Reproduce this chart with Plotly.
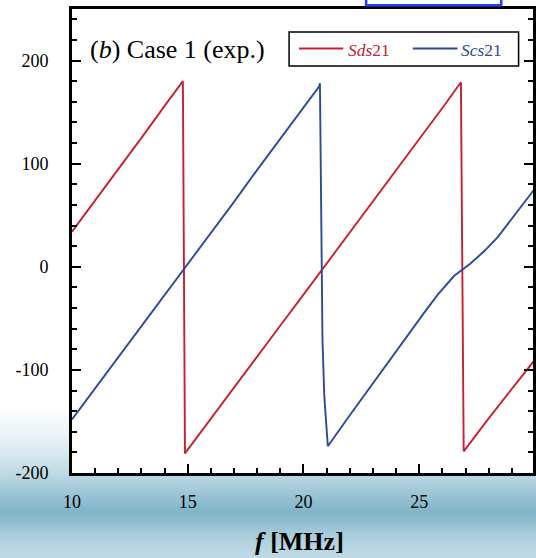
import plotly.graph_objects as go

# ---------------- data ----------------
sds_name = "Sds21"
sds_freq = [10.0, 11.0, 12.0, 13.0, 14.0, 14.79, 14.88, 16.0, 17.0, 18.0, 19.0, 20.0,
            21.0, 22.0, 23.0, 24.0, 25.0, 26.0, 26.80, 26.92, 28.0, 29.0, 30.0]
sds_phase = [34, 64, 95, 125, 156, 180, -181, -147, -117, -87, -57, -27,
             3, 33, 63, 94, 124, 154, 179, -179, -147, -118, -90]

scs_name = "Scs21"
scs_freq = [10.0, 11.0, 12.0, 13.0, 14.0, 15.0, 16.0, 17.0, 18.0, 19.0, 20.0, 20.68, 20.71,
            20.75, 20.82, 20.90, 21.05, 22.0, 23.0, 24.0, 24.66, 25.2, 25.8, 26.5, 27.2,
            27.8, 28.4, 28.8, 29.4, 29.92, 30.0]
scs_phase = [-148, -118, -88, -57, -27, 3, 33, 63, 94, 124, 154, 175, 178,
             64, -71, -126, -174, -144, -113, -82, -61, -45, -27, -9, 3,
             15, 29, 41, 59, 74, 76]

x_tick_vals = [10, 15, 20, 25]
x_tick_text = ["10", "15", "20", "25"]
y_tick_vals = [-200, -100, 0, 100, 200]
y_tick_text = ["-200", "-100", "0", "100", "200"]

# ---------------- layout geometry ----------------
W, H = 536, 558
L, R, T, B = 72, 0, 9, 85
PW, PH = W - L - R, H - T - B
PX_PER_MHZ = 23.3
X_MAX = 10 + PW / PX_PER_MHZ

def fx(px):
    return (px - L) / PW

def fy(py):
    return (H - B - py) / PH

RED = "#c8202f"
BLUE = "#2b4a99"
FONT = "Liberation Serif, Times New Roman, serif"

fig = go.Figure()
fig.add_trace(go.Scatter(x=sds_freq, y=sds_phase, mode="lines", name=sds_name,
                         line=dict(color=RED, width=1.9), showlegend=False))
fig.add_trace(go.Scatter(x=scs_freq, y=scs_phase, mode="lines", name=scs_name,
                         line=dict(color=BLUE, width=1.9), showlegend=False))

shapes = []

# background gradient (slide background behind the chart)
stops = [(405, (255, 255, 255)), (430, (238, 245, 248)), (455, (214, 232, 239)),
         (474, (190, 217, 228)), (490, (163, 201, 217)), (503, (140, 188, 206)),
         (512, (130, 180, 200)), (522, (143, 190, 208)), (535, (170, 205, 219)),
         (548, (185, 214, 226)), (560, (192, 218, 229))]

def col_at(py):
    for (a, ca), (b, cb) in zip(stops[:-1], stops[1:]):
        if a <= py <= b:
            t = (py - a) / (b - a)
            c = [round(ca[i] + (cb[i] - ca[i]) * t) for i in range(3)]
            return "rgb(%d,%d,%d)" % tuple(c)
    return "rgb(255,255,255)"

py = 405
while py < 560:
    y_top, y_bot = py, py + 2
    if y_bot <= H - B + 1:
        xl, xr = fx(-5), fx(L - 1)
    else:
        xl, xr = fx(-5), fx(W + 5)
    shapes.append(dict(type="rect", xref="paper", yref="paper", x0=xl, x1=xr,
                       y0=fy(y_bot + 0.5), y1=fy(y_top), fillcolor=col_at(py + 1),
                       line=dict(width=0), layer="below"))
    py += 2

# blue selection rectangle at the very top
shapes.append(dict(type="rect", xref="paper", yref="paper", x0=fx(368), x1=fx(504),
                   y0=fy(5.3), y1=fy(-10), fillcolor="white",
                   line=dict(color="#1e40ff", width=2.5)))

# legend box and samples
shapes.append(dict(type="rect", xref="paper", yref="paper", x0=fx(290.5), x1=fx(521.5),
                   y0=fy(66), y1=fy(32), fillcolor="white",
                   line=dict(color="black", width=1.5)))
shapes.append(dict(type="line", xref="paper", yref="paper", x0=fx(300.5), x1=fx(345),
                   y0=fy(48.5), y1=fy(48.5), line=dict(color=RED, width=1.8)))
shapes.append(dict(type="line", xref="paper", yref="paper", x0=fx(415), x1=fx(460),
                   y0=fy(48.5), y1=fy(48.5), line=dict(color=BLUE, width=1.8)))

def legend_label(name):
    return "<i>%s</i>%s" % (name[:-2], name[-2:])

annotations = [
    dict(xref="paper", yref="paper", x=fx(88), y=fy(49.5), xanchor="left", yanchor="middle",
         text="(<i>b</i>) Case 1 (exp.)", showarrow=False,
         font=dict(family=FONT, size=26, color="black")),
    dict(xref="paper", yref="paper", x=fx(348), y=fy(50), xanchor="left", yanchor="middle",
         text=legend_label(sds_name), showarrow=False,
         font=dict(family=FONT, size=17.5, color=RED)),
    dict(xref="paper", yref="paper", x=fx(462), y=fy(50), xanchor="left", yanchor="middle",
         text=legend_label(scs_name), showarrow=False,
         font=dict(family=FONT, size=17.5, color=BLUE)),
    dict(xref="paper", yref="paper", x=fx(301), y=fy(557), xanchor="center", yanchor="bottom",
         text="<b><i>f</i> [MHz]</b>", showarrow=False, borderpad=0,
         font=dict(family=FONT, size=26, color="black")),
    dict(xref="x", yref="paper", x=30, y=fy(498), xanchor="center", yanchor="middle",
         text="30", showarrow=False, font=dict(family=FONT, size=18, color="black")),
]

fig.update_layout(
    width=W, height=H,
    margin=dict(l=L, r=R, t=T, b=B, pad=0),
    paper_bgcolor="white", plot_bgcolor="white",
    font=dict(family=FONT, size=18, color="black"),
    showlegend=False,
    shapes=shapes,
    annotations=annotations,
    xaxis=dict(range=[10, X_MAX], tickmode="array", tickvals=x_tick_vals, ticktext=x_tick_text,
               ticks="inside", ticklen=9, tickwidth=2, tickcolor="black",
               showline=True, linewidth=3, linecolor="black", mirror=True,
               showgrid=False, zeroline=False, ticklabelstandoff=10,
               tickfont=dict(family=FONT, size=18, color="black"),
               minor=dict(dtick=1, tick0=10, ticks="inside", ticklen=5, tickwidth=2,
                          tickcolor="black", showgrid=False)),
    yaxis=dict(range=[-200, 250], tickmode="array", tickvals=y_tick_vals, ticktext=y_tick_text,
               ticks="inside", ticklen=9, tickwidth=2, tickcolor="black",
               showline=True, linewidth=3, linecolor="black", mirror="ticks",
               showgrid=False, zeroline=False, ticklabelstandoff=17,
               tickfont=dict(family=FONT, size=18, color="black"),
               minor=dict(dtick=20, tick0=0, ticks="inside", ticklen=5, tickwidth=2,
                          tickcolor="black", showgrid=False)),
)

fig.write_html("out.html")
